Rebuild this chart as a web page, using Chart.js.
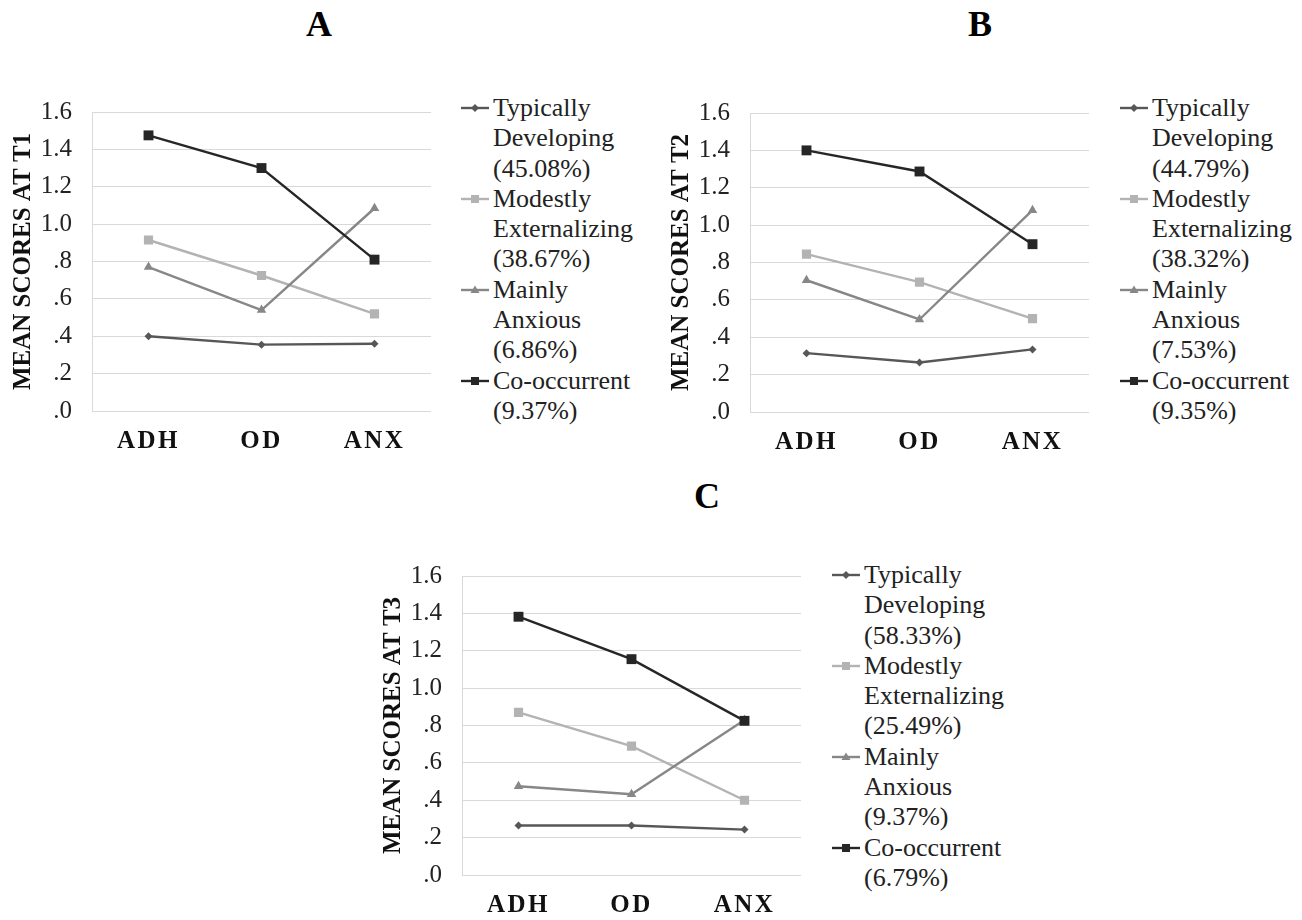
<!DOCTYPE html>
<html>
<head>
<meta charset="utf-8">
<script src="https://cdn.jsdelivr.net/npm/chart.js@4/dist/chart.umd.min.js"></script>
<style>
  html, body { margin: 0; padding: 0; background: #fff; overflow: hidden; }
  body { width: 1302px; height: 920px; position: relative; font-family: "Liberation Serif", "Times New Roman", serif; }
  .cv { position: absolute; }
  .title { position: absolute; font-weight: bold; font-size: 36px; line-height: 36px; transform: translate(-50%, -50%); color: #000; }
  .legend { position: absolute; font-size: 26px; line-height: 30.3px; color: #222; }
  .entry { display: flex; align-items: flex-start; }
  .entry svg { flex: none; margin-right: 2px; }
</style>
</head>
<body>
<div class="title" style="left:319px; top:24px;">A</div>
<div class="title" style="left:980px; top:24px;">B</div>
<div class="title" style="left:707px; top:496px;">C</div>

<canvas id="cA" class="cv" style="left:0px; top:90px;" width="440" height="380"></canvas>
<canvas id="cB" class="cv" style="left:658px; top:91px;" width="440" height="380"></canvas>
<canvas id="cC" class="cv" style="left:370px; top:554px;" width="440" height="380"></canvas>

<div id="lA" class="legend" style="left:461px; top:93px;"></div>
<div id="lB" class="legend" style="left:1120px; top:93px;"></div>
<div id="lC" class="legend" style="left:832px; top:560px;"></div>

<script>
// ---- data ----
const categories = ['ADH', 'OD', 'ANX'];
const seriesNames = ['Typically Developing', 'Modestly Externalizing', 'Mainly Anxious', 'Co-occurrent'];
const seriesLines = [['Typically', 'Developing'], ['Modestly', 'Externalizing'], ['Mainly', 'Anxious'], ['Co-occurrent']];

const pctA = ['45.08%', '38.67%', '6.86%', '9.37%'];
const pctB = ['44.79%', '38.32%', '7.53%', '9.35%'];
const pctC = ['58.33%', '25.49%', '9.37%', '6.79%'];

const axisTitleA = 'MEAN SCORES AT T1';
const axisTitleB = 'MEAN SCORES AT T2';
const axisTitleC = 'MEAN SCORES AT T3';

// T1
const typicalA  = [0.40, 0.355, 0.36];
const modestA   = [0.915, 0.725, 0.52];
const anxiousA  = [0.77, 0.54, 1.085];
const cooccA    = [1.475, 1.30, 0.81];
// T2
const typicalB  = [0.315, 0.265, 0.335];
const modestB   = [0.845, 0.695, 0.50];
const anxiousB  = [0.705, 0.495, 1.08];
const cooccB    = [1.40, 1.287, 0.898];
// T3
const typicalC  = [0.265, 0.265, 0.243];
const modestC   = [0.87, 0.69, 0.40];
const anxiousC  = [0.475, 0.432, 0.83];
const cooccC    = [1.382, 1.155, 0.825];

const yTickValues = [0, 0.2, 0.4, 0.6, 0.8, 1.0, 1.2, 1.4, 1.6];
const yTickLabels = ['.0', '.2', '.4', '.6', '.8', '1.0', '1.2', '1.4', '1.6'];

// ---- styles ----
const seriesColors = ['#575757', '#b3b3b3', '#878787', '#262626'];
const seriesPoint  = ['rectRot', 'rect', 'triangle', 'rect'];
const seriesRadius = [4, 6.5, 5.5, 7];
const FONT = "'Liberation Serif', 'Times New Roman', serif";

// letter-spaced x tick labels (bold caps in the original are tracked out)
const spacedXLabels = {
  id: 'spacedXLabels',
  beforeDraw(chart) {
    const sc = chart.scales.x;
    if (!sc || sc._spacedPatched) return;
    const orig = sc.drawLabels;
    sc.drawLabels = function (area) {
      const ctx = this.ctx;
      ctx.save();
      try { ctx.letterSpacing = '2.5px'; } catch (e) {}
      orig.call(this, area);
      ctx.restore();
    };
    sc._spacedPatched = true;
  }
};

function makeChart(id, title, data) {
  const datasets = data.map((vals, i) => ({
    label: seriesNames[i],
    data: vals,
    order: data.length - 1 - i,
    borderColor: seriesColors[i],
    backgroundColor: seriesColors[i],
    pointBackgroundColor: seriesColors[i],
    pointBorderColor: seriesColors[i],
    pointBorderWidth: 0,
    pointStyle: seriesPoint[i],
    pointRadius: seriesRadius[i],
    borderWidth: 2.4,
    tension: 0,
    fill: false
  }));
  return new Chart(document.getElementById(id), {
    type: 'line',
    data: { labels: categories, datasets },
    plugins: [spacedXLabels],
    options: {
      responsive: false,
      animation: false,
      devicePixelRatio: 1,
      layout: { padding: { top: 22, right: 9, bottom: 0, left: 0 } },
      plugins: { legend: { display: false }, tooltip: { enabled: false }, title: { display: false } },
      scales: {
        x: {
          type: 'category',
          offset: true,
          grid: { display: false, drawTicks: false },
          border: { display: false },
          ticks: { color: '#111', padding: 16, font: { family: FONT, size: 25, weight: 'bold' } },
          afterFit: s => { s.height = 59; s.paddingLeft = 0; s.paddingRight = 0; }
        },
        y: {
          min: 0, max: 1.6,
          afterBuildTicks: s => { s.ticks = yTickValues.map(v => ({ value: v })); },
          grid: { color: '#d9d9d9', lineWidth: 1, drawTicks: false },
          border: { display: true, color: '#d9d9d9', width: 1 },
          ticks: {
            color: '#222', padding: 20,
            font: { family: FONT, size: 25 },
            callback: (v) => { const i = yTickValues.findIndex(t => Math.abs(t - v) < 1e-9); return i >= 0 ? yTickLabels[i] : ''; }
          },
          title: {
            display: true, text: title, color: '#111',
            font: { family: FONT, size: 25, weight: 'bold' },
            padding: { top: 9, bottom: 0 }
          },
          afterFit: s => { s.width = 92; s.paddingTop = 0; s.paddingBottom = 0; }
        }
      }
    }
  });
}

function markerSvg(i) {
  const c = seriesColors[i];
  let shape = '';
  if (seriesPoint[i] === 'rectRot') shape = `<polygon points="14,11 18,15 14,19 10,15" fill="${c}"/>`;
  else if (seriesPoint[i] === 'triangle') shape = `<polygon points="14,10.5 18.5,18 9.5,18" fill="${c}"/>`;
  else shape = `<rect x="10" y="11" width="8" height="8" fill="${c}"/>`;
  return `<svg width="30" height="30" viewBox="0 0 30 30"><line x1="0" y1="15" x2="28" y2="15" stroke="${c}" stroke-width="2.4"/>${shape}</svg>`;
}

function makeLegend(id, pcts) {
  const el = document.getElementById(id);
  el.innerHTML = seriesLines.map((lines, i) =>
    `<div class="entry">${markerSvg(i)}<div>${lines.map(l => `<div>${l}</div>`).join('')}<div>(${pcts[i]})</div></div></div>`
  ).join('');
}

makeChart('cA', axisTitleA, [typicalA, modestA, anxiousA, cooccA]);
makeChart('cB', axisTitleB, [typicalB, modestB, anxiousB, cooccB]);
makeChart('cC', axisTitleC, [typicalC, modestC, anxiousC, cooccC]);
makeLegend('lA', pctA);
makeLegend('lB', pctB);
makeLegend('lC', pctC);
</script>
</body>
</html>
